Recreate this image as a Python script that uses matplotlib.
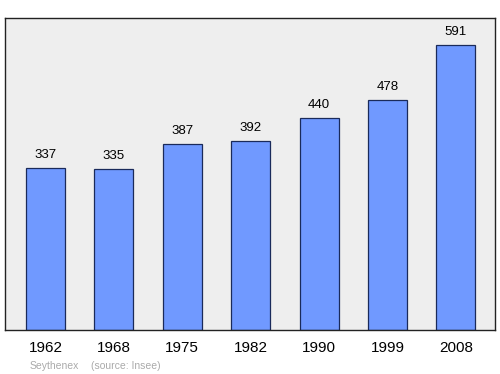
import matplotlib
matplotlib.use("Agg")
import matplotlib.pyplot as plt

years = ["1962", "1968", "1975", "1982", "1990", "1999", "2008"]
population = [337, 335, 387, 392, 440, 478, 591]
commune = "Seythenex"
source = "(source: Insee)"

plt.rcParams["font.family"] = ["Liberation Sans", "DejaVu Sans"]

fig = plt.figure(figsize=(5, 3.74), dpi=100)
ax = fig.add_axes([0.01, 0.1176, 0.98, 0.8343])
ax.set_facecolor("#eeeeee")

x = range(len(years))
ax.bar(x, population, width=0.57, color="#7099ff", edgecolor="#1a2a5a", linewidth=0.9, zorder=2)

for i, v in enumerate(population):
    ax.annotate(str(v), (i, v), xytext=(0, 5), textcoords="offset points",
                ha="center", va="bottom", fontsize=9.5)

ax.set_xlim(-0.59, 6.57)
ax.set_ylim(0, 648)
ax.set_yticks([])
ax.set_xticks(list(x))
ax.set_xticklabels(years, fontsize=11)
ax.tick_params(axis="x", length=0, pad=8)
for s in ax.spines.values():
    s.set_linewidth(1.0)
    s.set_color("#222222")

fig.text(0.06, 0.008, commune, fontsize=7.5, color="#aaaaaa", ha="left", va="bottom")
fig.text(0.182, 0.008, source, fontsize=7.5, color="#aaaaaa", ha="left", va="bottom")

fig.savefig("out.png", dpi=100)
